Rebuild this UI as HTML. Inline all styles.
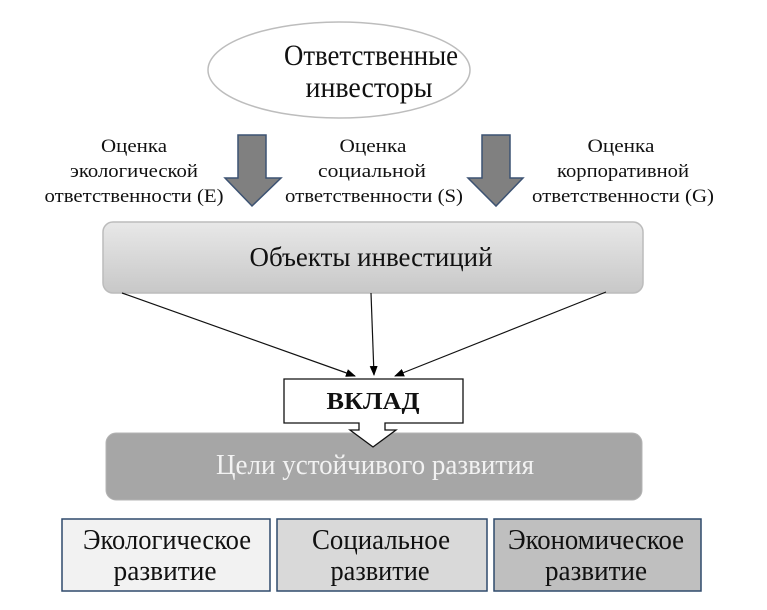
<!DOCTYPE html>
<html><head><meta charset="utf-8">
<style>
html,body{margin:0;padding:0;background:#fff;}
svg{display:block;}
text{font-family:"Liberation Serif","Noto Serif CJK SC",serif;}
</style></head>
<body>
<svg width="767" height="610" viewBox="0 0 767 610" xmlns="http://www.w3.org/2000/svg" font-family="Liberation Serif, serif">
<defs>
<linearGradient id="g1" x1="0" y1="0" x2="0" y2="1">
<stop offset="0" stop-color="#e8e8e8"/>
<stop offset="1" stop-color="#c8c8c8"/>
</linearGradient>
<marker id="ah" markerWidth="10" markerHeight="8" refX="9" refY="4" orient="auto" markerUnits="userSpaceOnUse">
<path d="M0,0 L10,4 L0,8 Z" fill="#000"/>
</marker>
</defs>

<!-- Ellipse -->
<ellipse cx="339" cy="70" rx="131" ry="48" fill="#fff" stroke="#bdbdbd" stroke-width="1.5"/>
<text x="371" y="65" font-size="30" text-anchor="middle" textLength="174" lengthAdjust="spacingAndGlyphs" fill="#111">Ответственные</text>
<text x="369" y="97" font-size="30" text-anchor="middle" textLength="127" lengthAdjust="spacingAndGlyphs" fill="#111">инвесторы</text>

<!-- Block arrows -->
<path d="M238,135 H266 V178 H281 L252,206 L225,178 H238 Z" fill="#808080" stroke="#3c5272" stroke-width="1.5"/>
<path d="M482,135 H510 V178 H523 L496,206 L468,178 H482 Z" fill="#808080" stroke="#3c5272" stroke-width="1.5"/>

<!-- Small labels -->
<g font-size="19" fill="#111" text-anchor="middle">
<text x="134" y="152" textLength="66" lengthAdjust="spacingAndGlyphs">Оценка</text>
<text x="134" y="177" textLength="128" lengthAdjust="spacingAndGlyphs">экологической</text>
<text x="134" y="202" textLength="179" lengthAdjust="spacingAndGlyphs">ответственности (E)</text>

<text x="373" y="152" textLength="67" lengthAdjust="spacingAndGlyphs">Оценка</text>
<text x="372" y="177" textLength="108" lengthAdjust="spacingAndGlyphs">социальной</text>
<text x="374" y="202" textLength="178" lengthAdjust="spacingAndGlyphs">ответственности (S)</text>

<text x="621" y="152" textLength="67" lengthAdjust="spacingAndGlyphs">Оценка</text>
<text x="623" y="177" textLength="132" lengthAdjust="spacingAndGlyphs">корпоративной</text>
<text x="623" y="202" textLength="182" lengthAdjust="spacingAndGlyphs">ответственности (G)</text>
</g>

<!-- Objects box -->
<rect x="103" y="222" width="540" height="71" rx="10" ry="10" fill="url(#g1)" stroke="#bcbcbc" stroke-width="1.5"/>
<text x="371" y="266" font-size="27" text-anchor="middle" textLength="243" lengthAdjust="spacingAndGlyphs" fill="#111">Объекты инвестиций</text>

<!-- Connectors -->
<line x1="122" y1="293" x2="355" y2="376" stroke="#111" stroke-width="1.2" marker-end="url(#ah)"/>
<line x1="371" y1="293" x2="374" y2="375" stroke="#111" stroke-width="1.2" marker-end="url(#ah)"/>
<line x1="606" y1="292" x2="395" y2="376" stroke="#111" stroke-width="1.2" marker-end="url(#ah)"/>

<!-- Goals box -->
<rect x="106" y="433" width="536" height="67" rx="10" ry="10" fill="#a6a6a6" stroke="#b4b4b4" stroke-width="1"/>
<text x="375" y="474" font-size="28" text-anchor="middle" textLength="318" lengthAdjust="spacingAndGlyphs" fill="#f2f2f2">Цели устойчивого развития</text>

<!-- VKLAD callout -->
<path d="M284,379 H463 V423 H385 V430 H396 L373,447 L350,430 H359 V423 H284 Z" fill="#fff" stroke="#111" stroke-width="1.3"/>
<text x="373" y="409" font-size="24" font-weight="bold" text-anchor="middle" textLength="93" lengthAdjust="spacingAndGlyphs" fill="#111">ВКЛАД</text>

<!-- Bottom boxes -->
<rect x="62" y="519" width="208" height="72" fill="#f2f2f2" stroke="#2f4a6c" stroke-width="1.5"/>
<rect x="277" y="519" width="210" height="72" fill="#d9d9d9" stroke="#2f4a6c" stroke-width="1.5"/>
<rect x="494" y="519" width="207" height="72" fill="#bfbfbf" stroke="#2f4a6c" stroke-width="1.5"/>

<g font-size="28" fill="#111" text-anchor="middle">
<text x="167" y="549" textLength="168" lengthAdjust="spacingAndGlyphs">Экологическое</text>
<text x="165" y="580" textLength="103" lengthAdjust="spacingAndGlyphs">развитие</text>
<text x="381" y="549" textLength="138" lengthAdjust="spacingAndGlyphs">Социальное</text>
<text x="380" y="580" textLength="99" lengthAdjust="spacingAndGlyphs">развитие</text>
<text x="596" y="549" textLength="176" lengthAdjust="spacingAndGlyphs">Экономическое</text>
<text x="596" y="580" textLength="102" lengthAdjust="spacingAndGlyphs">развитие</text>
</g>
</svg>
</body></html>
